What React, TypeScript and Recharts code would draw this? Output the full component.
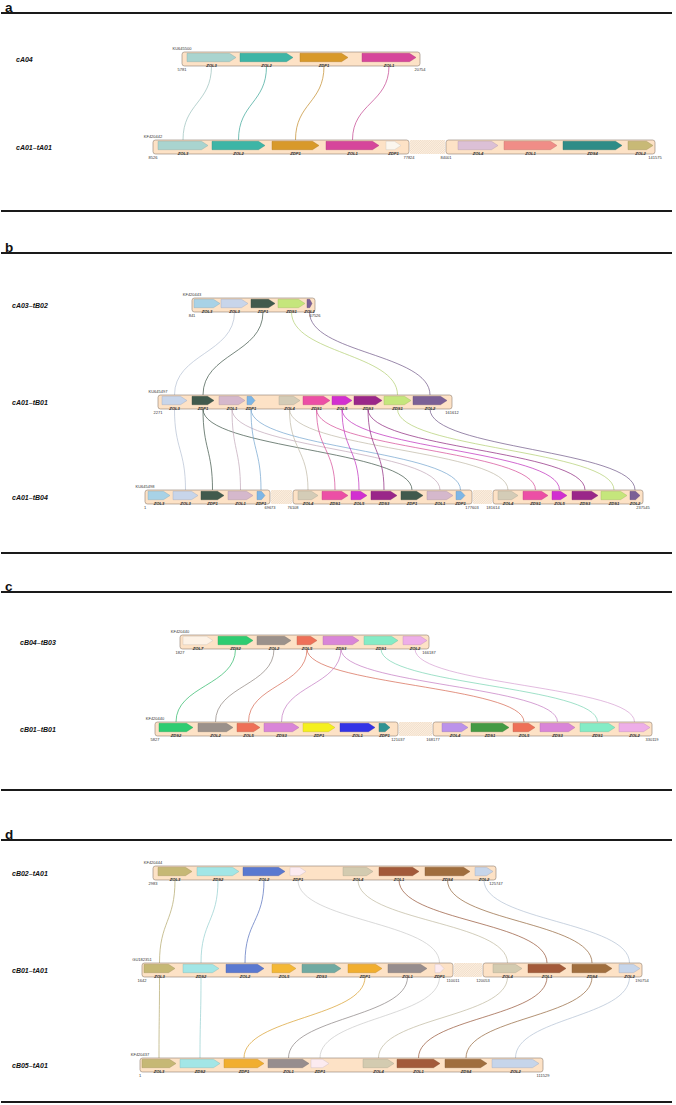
import React from "react";
import {
  ComposedChart,
  XAxis,
  YAxis,
  ReferenceArea,
  ReferenceLine,
  Scatter,
} from "recharts";

// gene = [name, colour group, start, end] in layout units along the track
type Gene = [string, string, number, number];

const geneColors: Record<string, string> = {
  lteal: "#a9d4cf",
  teal: "#3db5a6",
  ochre: "#d8992a",
  magA: "#d6469b",
  whiteA: "#fbf6ee",
  mauveA: "#dcc0d6",
  salmon: "#f08d87",
  dkteal: "#2e8c87",
  khakiA: "#c8b976",
  ltblue: "#a8d2e6",
  peri: "#c8d5ea",
  slate: "#415a4d",
  ltgreen: "#c5e67c",
  purple: "#7b6096",
  mauve: "#d5b8cc",
  sky: "#7db6e6",
  beige: "#d4ccb7",
  pink: "#ec4fa5",
  mag: "#d22fd0",
  violet: "#9a2689",
  cream: "#fdf2e6",
  green: "#2ecc71",
  grey: "#9b918b",
  coral: "#ee7058",
  orchid: "#d985d8",
  mint: "#84ecc6",
  pinkl: "#eeaee8",
  yellow: "#f5f01e",
  blue: "#3333e6",
  tealsm: "#2f9393",
  lav: "#bb92ea",
  green2: "#449a44",
  khaki: "#c6b875",
  cyan: "#a2e6e6",
  blue2: "#5a79d0",
  pinkw: "#fcebf0",
  beige2: "#d3cbb0",
  brown1: "#a35a3a",
  brown2: "#a06e3e",
  peri2: "#c6d5ea",
  yorange: "#f4b836",
  tgrey: "#70aaa2",
  orange: "#f1ae2f",
  grey2: "#968d8e",
};

const panelLetters = ["a", "b", "c", "d"];
const panelTop = [13, 253, 592, 840];
const panelBottom = [211, 553, 790, 1102];

const trackNames = [
  "cA04",
  "cA01–tA01",
  "cA03–tB02",
  "cA01–tB01",
  "cA01–tB04",
  "cB04–tB03",
  "cB01–tB01",
  "cB02–tA01",
  "cB01–tA01",
  "cB05–tA01",
];
const trackRows = [59, 147, 305, 402, 497, 642, 729, 873, 970, 1065];
const trackLabelX = [16, 16, 12, 12, 12, 20, 20, 12, 12, 12];
const accessions = [
  "KU645500",
  "KF420442",
  "KF420443",
  "KU645497",
  "KU645498",
  "KF420440",
  "KF420440",
  "KF420444",
  "GU182351",
  "KF420437",
];

// backbone segments (breaks between them)
const segments: [number, number][][] = [
  [[182, 420]],
  [[153, 409], [446, 655]],
  [[192, 315]],
  [[158, 452]],
  [[145, 270], [293, 472], [493, 643]],
  [[180, 429]],
  [[155, 398], [433, 652]],
  [[153, 496]],
  [[142, 453], [483, 642]],
  [[140, 543]],
];
const coordLabels = [
  ["5781", "20754"],
  ["8526", "77824", "84001", "141575"],
  ["841", "67526"],
  ["2271", "161612"],
  ["1", "69673", "76108", "177603", "181614", "237545"],
  ["1827", "166187"],
  ["5827", "121037", "168177", "330119"],
  ["2983", "125747"],
  ["1642", "110011", "120053", "190754"],
  ["1", "111529"],
];

const genes: Gene[][] = [
  [
    ["ZOL3", "lteal", 187, 236],
    ["ZOL2", "teal", 240, 293],
    ["ZDP1", "ochre", 300, 348],
    ["ZOL1", "magA", 362, 416],
  ],
  [
    ["ZOL3", "lteal", 158, 208],
    ["ZOL2", "teal", 212, 265],
    ["ZDP1", "ochre", 272, 319],
    ["ZOL1", "magA", 326, 379],
    ["ZDP1", "whiteA", 386, 401],
    ["ZOL4", "mauveA", 458, 498],
    ["ZOL1", "salmon", 504, 557],
    ["ZDS4", "dkteal", 563, 622],
    ["ZOL2", "khakiA", 628, 653],
  ],
  [
    ["ZOL3", "ltblue", 194, 220],
    ["ZOL3", "peri", 221, 248],
    ["ZDP1", "slate", 251, 275],
    ["ZDS1", "ltgreen", 278, 305],
    ["ZOL2", "purple", 307, 312],
  ],
  [
    ["ZOL3", "peri", 162, 187],
    ["ZDP1", "slate", 192, 214],
    ["ZOL1", "mauve", 219, 245],
    ["ZDP1", "sky", 247, 255],
    ["ZOL4", "beige", 279, 300],
    ["ZDS1", "pink", 303, 330],
    ["ZOL5", "mag", 332, 352],
    ["ZDS3", "violet", 354, 382],
    ["ZDS1", "ltgreen", 384, 411],
    ["ZOL2", "purple", 413, 447],
  ],
  [
    ["ZOL3", "ltblue", 148, 170],
    ["ZOL3", "peri", 173, 198],
    ["ZDP1", "slate", 201, 224],
    ["ZOL1", "mauve", 228, 253],
    ["ZDP1", "sky", 257, 265],
    ["ZOL4", "beige", 298, 318],
    ["ZDS1", "pink", 322, 348],
    ["ZOL5", "mag", 351, 367],
    ["ZDS3", "violet", 371, 397],
    ["ZDP1", "slate", 401, 423],
    ["ZOL1", "mauve", 427, 453],
    ["ZDP1", "sky", 456, 465],
    ["ZOL4", "beige", 498, 518],
    ["ZDS1", "pink", 523, 548],
    ["ZOL5", "mag", 552, 567],
    ["ZDS3", "violet", 572, 598],
    ["ZDS1", "ltgreen", 601, 627],
    ["ZOL2", "purple", 630, 640],
  ],
  [
    ["ZOL7", "cream", 183, 213],
    ["ZDS2", "green", 218, 253],
    ["ZOL2", "grey", 257, 291],
    ["ZOL5", "coral", 297, 317],
    ["ZDS3", "orchid", 323, 359],
    ["ZDS1", "mint", 364, 398],
    ["ZOL2", "pinkl", 403, 427],
  ],
  [
    ["ZDS2", "green", 159, 193],
    ["ZOL2", "grey", 198, 233],
    ["ZOL5", "coral", 237, 260],
    ["ZDS3", "orchid", 264, 299],
    ["ZDP1", "yellow", 303, 335],
    ["ZOL1", "blue", 340, 375],
    ["ZDP1", "tealsm", 379, 390],
    ["ZOL4", "lav", 442, 468],
    ["ZDS1", "green2", 471, 509],
    ["ZOL5", "coral", 513, 535],
    ["ZDS3", "orchid", 540, 575],
    ["ZDS1", "mint", 580, 615],
    ["ZOL2", "pinkl", 619, 650],
  ],
  [
    ["ZOL3", "khaki", 158, 192],
    ["ZDS2", "cyan", 197, 239],
    ["ZOL2", "blue2", 243, 285],
    ["ZDP1", "pinkw", 290, 306],
    ["ZOL4", "beige2", 343, 373],
    ["ZOL1", "brown1", 379, 419],
    ["ZDS4", "brown2", 425, 470],
    ["ZOL2", "peri2", 475, 493],
  ],
  [
    ["ZOL3", "khaki", 144, 175],
    ["ZDS2", "cyan", 183, 219],
    ["ZOL2", "blue2", 226, 264],
    ["ZOL5", "yorange", 272, 296],
    ["ZDS3", "tgrey", 302, 341],
    ["ZDP1", "orange", 348, 382],
    ["ZOL1", "grey2", 388, 427],
    ["ZDP1", "pinkw", 435, 444],
    ["ZOL4", "beige2", 493, 522],
    ["ZOL1", "brown1", 528, 566],
    ["ZDS4", "brown2", 572, 612],
    ["ZOL2", "peri2", 619, 640],
  ],
  [
    ["ZOL3", "khaki", 142, 176],
    ["ZDS2", "cyan", 180, 220],
    ["ZDP1", "orange", 224, 264],
    ["ZOL1", "grey2", 268, 309],
    ["ZDP1", "pinkw", 311, 329],
    ["ZOL4", "beige2", 363, 394],
    ["ZOL1", "brown1", 397, 440],
    ["ZDS4", "brown2", 445, 487],
    ["ZOL2", "peri2", 492, 539],
  ],
];

// links: [from track, from gene, to track, to gene]
const links: [number, number, number, number][] = [
  [0, 0, 1, 0], [0, 1, 1, 1], [0, 2, 1, 2], [0, 3, 1, 3],
  [2, 1, 3, 0], [2, 2, 3, 1], [2, 3, 3, 8], [2, 4, 3, 9],
  [3, 0, 4, 1], [3, 1, 4, 2], [3, 1, 4, 9], [3, 2, 4, 3], [3, 2, 4, 10],
  [3, 3, 4, 4], [3, 3, 4, 11], [3, 4, 4, 5], [3, 4, 4, 12], [3, 5, 4, 6],
  [3, 5, 4, 13], [3, 6, 4, 7], [3, 6, 4, 14], [3, 7, 4, 8], [3, 7, 4, 15],
  [3, 8, 4, 16], [3, 9, 4, 17],
  [5, 1, 6, 0], [5, 2, 6, 1], [5, 3, 6, 2], [5, 3, 6, 9], [5, 4, 6, 3],
  [5, 4, 6, 10], [5, 5, 6, 11], [5, 6, 6, 12],
  [7, 0, 8, 0], [7, 1, 8, 1], [7, 2, 8, 2], [7, 3, 8, 7], [7, 4, 8, 8],
  [7, 5, 8, 9], [7, 6, 8, 10], [7, 7, 8, 11],
  [8, 0, 9, 0], [8, 1, 9, 1], [8, 5, 9, 2], [8, 6, 9, 3], [8, 7, 9, 4],
  [8, 8, 9, 5], [8, 9, 9, 6], [8, 10, 9, 7], [8, 11, 9, 8],
];

const HALF = 7;
const FONT = "'Liberation Sans', Arial, sans-serif";

function shade(hex: string, f: number) {
  const n = parseInt(hex.slice(1), 16);
  const r = Math.round(((n >> 16) & 255) * f);
  const g = Math.round(((n >> 8) & 255) * f);
  const b = Math.round((n & 255) * f);
  return `rgb(${r},${g},${b})`;
}

function lightness(hex: string) {
  const n = parseInt(hex.slice(1), 16);
  return (((n >> 16) & 255) + ((n >> 8) & 255) + (n & 255)) / 765;
}

function GeneArrow(props: any) {
  const { x, y, width, height, color, name } = props;
  const head = Math.min(6.5, width * 0.45);
  const top = y + 1.3;
  const bot = y + height - 4.3;
  const mid = (top + bot) / 2;
  const body = x + width - head;
  return (
    <g>
      <path
        d={`M${x},${top} L${body},${top} L${x + width},${mid} L${body},${bot} L${x},${bot} Z`}
        fill={color}
        stroke={shade(color, 0.8)}
        strokeWidth={0.4}
      />
      <text
        x={x + width / 2}
        y={y + height + 0.6}
        fontSize={4.2}
        fontStyle="italic"
        fontWeight="bold"
        textAnchor="middle"
        fill="#333"
        fontFamily={FONT}
      >
        {name}
      </text>
    </g>
  );
}

function Backbone(props: any) {
  const { x, y, width, height } = props;
  return (
    <rect
      x={x}
      y={y}
      width={width}
      height={height}
      rx={2.5}
      ry={2.5}
      fill="#fde2c6"
      stroke="#8f7e70"
      strokeWidth={0.6}
    />
  );
}

function Hatch(props: any) {
  const { x, y, width, height } = props;
  const lines = [];
  for (let i = -height; i < width; i += 2.2) {
    lines.push(
      <line
        key={i}
        x1={Math.max(x, x + i)}
        y1={y + height - Math.max(0, -i)}
        x2={Math.min(x + width, x + i + height)}
        y2={y + Math.max(0, i + height - width)}
        stroke="#e2c8ad"
        strokeWidth={0.45}
      />
    );
  }
  return (
    <g>
      <rect x={x} y={y} width={width} height={height} fill="#fcefe0" />
      {lines}
    </g>
  );
}

function LinkCurve(props: any) {
  const { x, y, width, height, color, flip } = props;
  const x1 = flip ? x + width : x;
  const x2 = flip ? x : x + width;
  const y1 = y;
  const y2 = y + height;
  const my = (y1 + y2) / 2;
  return (
    <path
      d={`M${x1},${y1} C${x1},${my} ${x2},${my} ${x2},${y2}`}
      fill="none"
      stroke={color}
      strokeWidth={0.7}
    />
  );
}

function TextMark(props: any) {
  const { cx, cy, payload } = props;
  const k = payload.kind;
  if (k === "panel")
    return (
      <text x={cx} y={cy} fontSize={13.5} fontWeight="bold" fill="#111" fontFamily={FONT}>
        {payload.text}
      </text>
    );
  if (k === "track")
    return (
      <text x={cx} y={cy} fontSize={7} fontWeight="bold" fontStyle="italic" fill="#111" fontFamily={FONT}>
        {payload.text}
      </text>
    );
  return (
    <text x={cx} y={cy} fontSize={4} textAnchor="middle" fill="#333" fontFamily={FONT}>
      {payload.text}
    </text>
  );
}

const textPoints: { x: number; y: number; text: string; kind: string }[] = [];
panelLetters.forEach((l, i) =>
  textPoints.push({ x: 5, y: panelTop[i] - 1.5, text: l, kind: "panel" })
);
trackNames.forEach((n, i) => {
  const row = trackRows[i];
  textPoints.push({ x: trackLabelX[i], y: row + 2.5, text: n, kind: "track" });
  textPoints.push({ x: segments[i][0][0], y: row - HALF - 2, text: accessions[i], kind: "small" });
  segments[i].forEach((s, j) => {
    textPoints.push({ x: s[0], y: row + HALF + 5, text: coordLabels[i][j * 2], kind: "small" });
    textPoints.push({ x: s[1], y: row + HALF + 5, text: coordLabels[i][j * 2 + 1], kind: "small" });
  });
});

function linkColor(c: string) {
  return lightness(c) > 0.9 ? "#c9c9c9" : shade(c, 0.9);
}

export default function App() {
  return (
    <div style={{ position: "absolute", left: 0, top: 0, background: "#fff" }}>
      <ComposedChart
        width={676}
        height={1105}
        margin={{ top: 0, right: 0, bottom: 0, left: 0 }}
      >
        <XAxis type="number" dataKey="x" domain={[0, 676]} allowDataOverflow hide />
        <YAxis type="number" dataKey="y" domain={[0, 1105]} allowDataOverflow reversed hide />

        {panelTop.map((y, i) => (
          <ReferenceLine
            key={`pt${i}`}
            segment={[{ x: 1, y }, { x: 672, y }]}
            stroke="#1a1a1a"
            strokeWidth={1.8}
          />
        ))}
        {panelBottom.map((y, i) => (
          <ReferenceLine
            key={`pb${i}`}
            segment={[{ x: 1, y }, { x: 672, y }]}
            stroke="#1a1a1a"
            strokeWidth={1.8}
          />
        ))}

        {links.map(([ft, fg, tt, tg], i) => {
          const a = genes[ft][fg];
          const b = genes[tt][tg];
          const sx = (a[2] + a[3]) / 2;
          const tx = (b[2] + b[3]) / 2;
          const col = linkColor(geneColors[a[1]]);
          return (
            <ReferenceArea
              key={`l${i}`}
              x1={sx}
              x2={tx === sx ? tx + 0.01 : tx}
              y1={trackRows[ft] + HALF}
              y2={trackRows[tt] - HALF}
              ifOverflow="visible"
              shape={(p: any) => <LinkCurve {...p} color={col} flip={tx < sx} />}
            />
          );
        })}

        {segments.map((segs, i) =>
          segs.map((s, j) => (
            <ReferenceArea
              key={`s${i}-${j}`}
              x1={s[0]}
              x2={s[1]}
              y1={trackRows[i] - HALF}
              y2={trackRows[i] + HALF}
              ifOverflow="visible"
              shape={(p: any) => <Backbone {...p} />}
            />
          ))
        )}
        {segments.map((segs, i) =>
          segs.slice(1).map((s, j) => (
            <ReferenceArea
              key={`h${i}-${j}`}
              x1={segs[j][1] + 1}
              x2={s[0] - 1}
              y1={trackRows[i] - HALF}
              y2={trackRows[i] + HALF}
              ifOverflow="visible"
              shape={(p: any) => <Hatch {...p} />}
            />
          ))
        )}

        {genes.map((gs, i) =>
          gs.map((g, j) => (
            <ReferenceArea
              key={`g${i}-${j}`}
              x1={g[2]}
              x2={g[3]}
              y1={trackRows[i] - HALF}
              y2={trackRows[i] + HALF}
              ifOverflow="visible"
              shape={(p: any) => (
                <GeneArrow {...p} color={geneColors[g[1]]} name={g[0]} />
              )}
            />
          ))
        )}

        <Scatter
          data={textPoints}
          isAnimationActive={false}
          shape={(p: any) => <TextMark {...p} />}
        />
      </ComposedChart>
    </div>
  );
}
